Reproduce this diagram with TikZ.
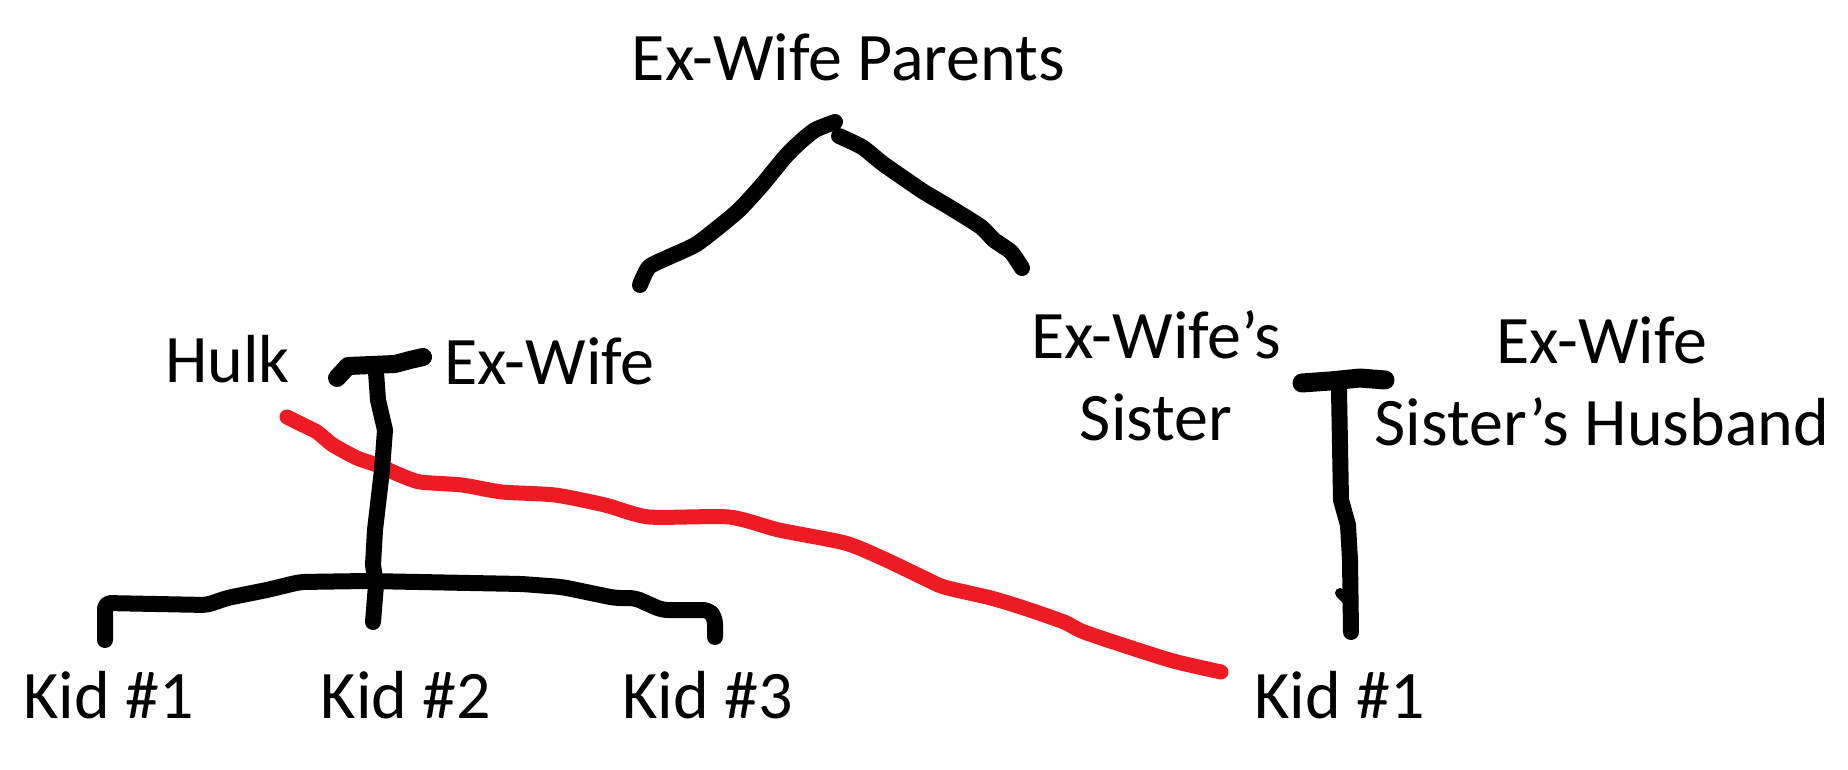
\documentclass[tikz,border=0pt]{standalone}
\usepackage{fontspec}
\setmainfont{Carlito}
\definecolor{penred}{RGB}{237,28,36}
\begin{document}
\begin{tikzpicture}[x=1pt,y=-1pt,
  lbl/.style={font=\fontsize{68}{82}\selectfont, inner sep=0pt, anchor=base, align=center},
  pen/.style={draw=black, line width=16pt, line cap=round, line join=round},
  redpen/.style={draw=penred, line width=15pt, line cap=round, line join=round}]
\useasboundingbox[fill=white] (0,0) rectangle (1848,770);

% labels (base anchor of a two-line node is the last line's baseline)
\node[lbl] (parents) at (848.5,81) {Ex-Wife Parents};
\node[lbl] (hulk) at (227.5,382) {Hulk};
\node[lbl] (exwife) at (549.5,384) {Ex-Wife};
\node[lbl] (sister) at (1156,440) {Ex-Wife’s\\Sister};
\node[lbl] (husband) at (1602,445) {Ex-Wife\\Sister’s Husband};
\node[lbl] (kidA) at (108.5,718) {Kid \#1};
\node[lbl] (kidB) at (406,718) {Kid \#2};
\node[lbl] (kidC) at (707.5,718) {Kid \#3};
\node[lbl] (kidD) at (1339.5,718) {Kid \#1};

% red stroke (Hulk to the sister's kid)
\draw[redpen] plot[smooth, tension=0.4] coordinates {(287,417) (303,425) (317,432) (333,445) (357,458) (377,465) (400,475) (420,482) (462,485) (502,492) (555,495) (605,505) (649,517) (729,517) (779,530) (845,543) (882,558) (924,578) (944,587) (991,598) (1024,608) (1064,622) (1084,632) (1144,652) (1177,662) (1221,672)};

% parents caret
\draw[pen] plot[smooth, tension=0.4] coordinates {(640,285) (649,267) (669,257) (695,245) (715,230) (739,210) (762,185) (785,157) (799,143) (815,130) (835,122)};
\draw[pen] plot[smooth, tension=0.4] coordinates {(839,136) (862,147) (882,163) (902,177) (924,192) (951,208) (981,227) (994,240) (1011,252) (1022,268)};

% Hulk + Ex-Wife marriage bar
\draw[pen, line width=18pt] (337,378) -- (348,366) -- (395,364) -- (410,360) -- (423,357);
\draw[pen] (376,372) -- (378,400) -- (385,430) -- (382,470) -- (375,530) -- (373,565) -- (376,585) -- (373,622);

% kids bar
\draw[pen, rounded corners=6pt] (105,640) -- (105,603) -- (207,605) -- (227,598) -- (267,590) -- (300,582) -- (367,581) -- (522,584) -- (562,587) -- (615,598) -- (635,598) -- (662,610) -- (709,610) -- (715,618) -- (715,637);

% sister + husband marriage bar
\draw[pen, line width=19pt] (1302,383) -- (1330,381) -- (1360,378) -- (1385,380);
\draw[pen] (1339,390) -- (1341,500) -- (1348,525) -- (1350,560) -- (1351,632);
\draw[pen, line width=10pt] (1340,593) -- (1348,601);
\end{tikzpicture}
\end{document}
